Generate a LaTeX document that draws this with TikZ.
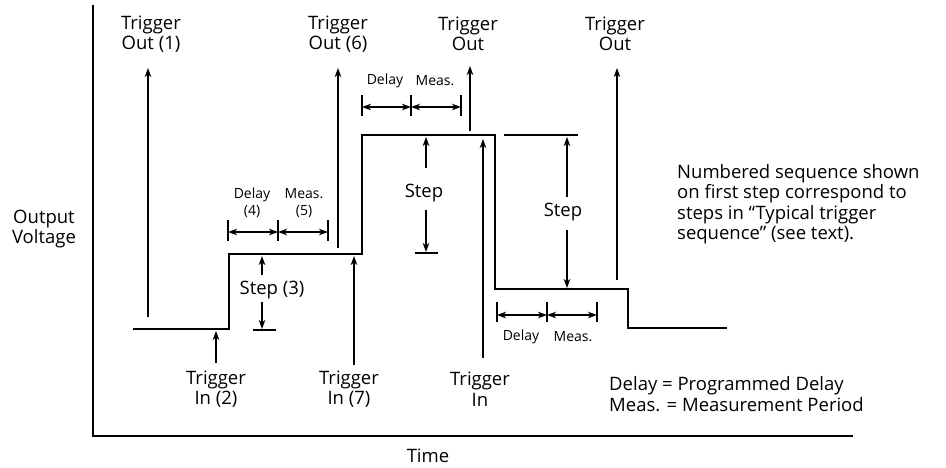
\documentclass[tikz,border=0pt]{standalone}
\usepackage{fontspec}
\setmainfont{Open Sans}
\usetikzlibrary{arrows.meta}
\begin{document}
\begin{tikzpicture}[x=1pt,y=-1pt,
  lbl/.style={inner sep=0pt,align=center,font=\fontsize{18.5}{20.5}\selectfont},
  sml/.style={inner sep=0pt,align=center,font=\fontsize{14}{17}\selectfont},
  arr/.style={line width=1.2pt,-{Stealth[length=9pt,width=6.5pt,inset=2.5pt]}},
  dim/.style={line width=1.2pt,{Stealth[length=9pt,width=6.5pt,inset=2.5pt]}-{Stealth[length=9pt,width=6.5pt,inset=2.5pt]}},
  tick/.style={line width=1.2pt},
  wave/.style={line width=2.6pt,line join=miter},
  axis/.style={line width=2pt}]
\useasboundingbox (0,0) rectangle (946,467);
% axes
\coordinate (axtop) at (93,5);
\coordinate (axorg) at (93,436);
\coordinate (axend) at (853,436);
\draw[axis] (axtop) -- (axorg) -- (axend);
\node[lbl] (ov) at (44,229) {Output\\Voltage};
\node[lbl] (time) at (428,456) {Time};
% waveform
\coordinate (w0) at (133,329);
\coordinate (w1) at (229,329);
\coordinate (w2) at (229,254);
\coordinate (w3) at (362,254);
\coordinate (w4) at (362,135);
\coordinate (w5) at (495,135);
\coordinate (w6) at (495,289);
\coordinate (w7) at (628,289);
\coordinate (w8) at (628,328);
\coordinate (w9) at (727,328);
\draw[wave] (w0) -- (w1) -- (w2) -- (w3) -- (w4) -- (w5) -- (w6) -- (w7) -- (w8) -- (w9);
% trigger out labels and arrows
\node[lbl] (to1) at (151,34) {Trigger\\Out (1)};
\node[lbl] (to6) at (338,34) {Trigger\\Out (6)};
\node[lbl] (to3) at (468,34) {Trigger\\Out};
\node[lbl] (to4) at (615,34) {Trigger\\Out};
\coordinate (to1s) at (148,317); \coordinate (to1e) at (148,68);
\coordinate (to6s) at (338,248); \coordinate (to6e) at (338,68);
\coordinate (to3s) at (470,131); \coordinate (to3e) at (470,66);
\coordinate (to4s) at (617,280); \coordinate (to4e) at (617,68);
\draw[arr] (to1s) -- (to1e);
\draw[arr] (to6s) -- (to6e);
\draw[arr] (to3s) -- (to3e);
\draw[arr] (to4s) -- (to4e);
% trigger in labels and arrows
\node[lbl] (ti2) at (216,389) {Trigger\\In (2)};
\node[lbl] (ti7) at (349,389) {Trigger\\In (7)};
\node[lbl] (ti3) at (480,389) {Trigger\\In};
\coordinate (ti2s) at (216,363); \coordinate (ti2e) at (216,331);
\coordinate (ti7s) at (354,365); \coordinate (ti7e) at (354,256);
\coordinate (ti3s) at (483,358); \coordinate (ti3e) at (483,139);
\draw[arr] (ti2s) -- (ti2e);
\draw[arr] (ti7s) -- (ti7e);
\draw[arr] (ti3s) -- (ti3e);
% step (3)
\node[lbl] (st3) at (272,290) {Step (3)};
\coordinate (st3a) at (262,275); \coordinate (st3b) at (262,256);
\coordinate (st3c) at (262,302); \coordinate (st3d) at (262,329);
\coordinate (st3l) at (253,330); \coordinate (st3r) at (276,330);
\draw[arr] (st3a) -- (st3b);
\draw[arr] (st3c) -- (st3d);
\draw[tick] (st3l) -- (st3r);
% step middle
\node[lbl] (stm) at (424,193) {Step};
\coordinate (stma) at (426,168); \coordinate (stmb) at (426,137);
\coordinate (stmc) at (426,210); \coordinate (stmd) at (426,252);
\coordinate (stml) at (415,253); \coordinate (stmr) at (438,253);
\draw[arr] (stma) -- (stmb);
\draw[arr] (stmc) -- (stmd);
\draw[tick] (stml) -- (stmr);
% step right
\node[lbl] (str) at (563,212) {Step};
\coordinate (strl) at (504,135); \coordinate (strr) at (578,135);
\coordinate (stra) at (567,197); \coordinate (strb) at (567,137);
\coordinate (strc) at (567,230); \coordinate (strd) at (567,288);
\draw[tick] (strl) -- (strr);
\draw[arr] (stra) -- (strb);
\draw[arr] (strc) -- (strd);
% delay / meas (first step)
\node[sml] (d4) at (252,203) {Delay\\(4)};
\node[sml] (m5) at (304,203) {Meas.\\(5)};
\foreach \n/\x in {a/228,b/278,c/328}{
  \coordinate (k1\n t) at (\x,220); \coordinate (k1\n b) at (\x,241);
  \coordinate (k1\n) at (\x,232);
  \draw[tick] (k1\n t) -- (k1\n b);}
\draw[dim] (k1a) -- (k1b);
\draw[dim] (k1b) -- (k1c);
% delay / meas (upper)
\node[sml] (d2) at (385,81) {Delay};
\node[sml] (m2) at (435,81) {Meas.};
\foreach \n/\x in {a/362,b/411,c/461}{
  \coordinate (k2\n t) at (\x,95); \coordinate (k2\n b) at (\x,116);
  \coordinate (k2\n) at (\x,107);
  \draw[tick] (k2\n t) -- (k2\n b);}
\draw[dim] (k2a) -- (k2b);
\draw[dim] (k2b) -- (k2c);
% delay / meas (lower)
\node[sml] (d3) at (521,337) {Delay};
\node[sml] (m3) at (573,337) {Meas.};
\foreach \n/\x in {a/497,b/547,c/597}{
  \coordinate (k3\n t) at (\x,302); \coordinate (k3\n b) at (\x,322);
  \coordinate (k3\n) at (\x,315);
  \draw[tick] (k3\n t) -- (k3\n b);}
\draw[dim] (k3a) -- (k3b);
\draw[dim] (k3b) -- (k3c);
% notes
\node[lbl,align=left,anchor=west] (note) at (677,204) {Numbered sequence shown\\on first step correspond to\\steps in “Typical trigger\\sequence” (see text).};
\node[lbl,align=left,anchor=west] (legend) at (609,394) {Delay = Programmed Delay\\Meas. = Measurement Period};
\end{tikzpicture}
\end{document}
